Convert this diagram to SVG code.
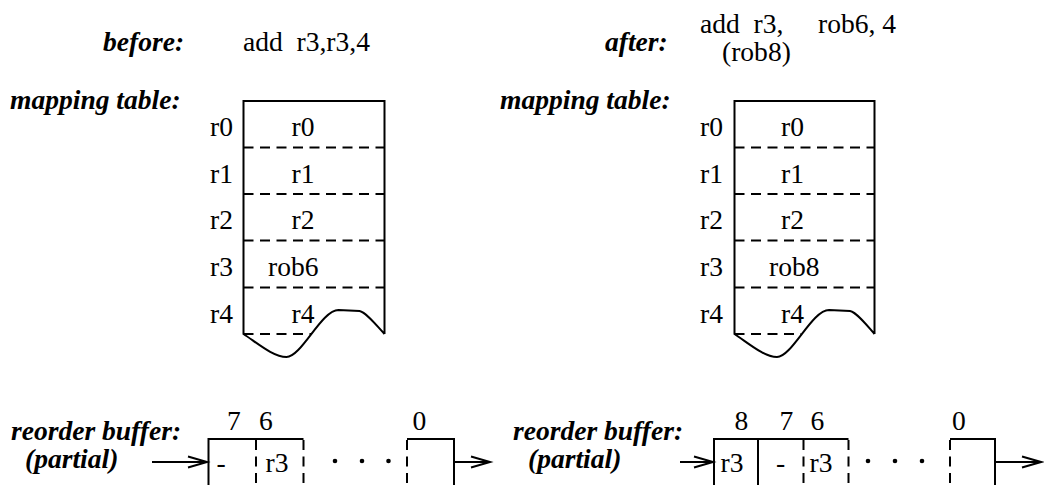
<svg xmlns="http://www.w3.org/2000/svg" width="1044" height="485" viewBox="0 0 1044 485">
<style>
text{font-family:"Liberation Serif","Times New Roman",serif;font-size:26.5px;fill:#000;white-space:pre}
.b{font-weight:bold;font-style:italic}
.m{text-anchor:middle}
.e{text-anchor:end}
.solid{fill:none;stroke:#000;stroke-width:2}
.dash{fill:none;stroke:#000;stroke-width:2;stroke-dasharray:10 6.5}
.arr{fill:none;stroke:#000;stroke-width:1.8}
</style>
<defs>
<marker id="ah" markerUnits="userSpaceOnUse" markerWidth="24" markerHeight="16" refX="20" refY="7" orient="auto">
<path d="M1 1.5 L20 7 L1 12.5" fill="none" stroke="#000" stroke-width="2"/>
</marker>
</defs>
<rect width="1044" height="485" fill="#fff"/>

<g id="title-before">
<text class="b" transform="translate(103 51) scale(1.04 1)">before:</text>
<text transform="translate(243 51) scale(1.04 1)">add  r3,r3,4</text>
</g>
<g id="title-after">
<text class="b" transform="translate(605 51) scale(1.04 1)">after:</text>
<text transform="translate(700 33) scale(1.04 1)">add  r3,</text>
<text transform="translate(818 33) scale(1.04 1)">rob6, 4</text>
<text transform="translate(722 61) scale(1.04 1)">(rob8)</text>
</g>

<g id="map-before">
<text class="b" transform="translate(10 109) scale(1.04 1)">mapping table:</text>
<path class="solid" d="M384.5 334 L384.5 101 L243.5 101 L243.5 334 C258.5 344 273.5 357 286.5 357 C301.5 357 321.5 310 338.5 310 L359.5 311 C365.5 312 375.5 324 384.5 334"/>
<path class="dash" d="M243.5 147.5H384.5M243.5 194H384.5M243.5 240.5H384.5M243.5 287.5H384.5M243.5 334H311"/>
<text class="e" transform="translate(233 136) scale(1.04 1)">r0</text>
<text class="e" transform="translate(233 182.7) scale(1.04 1)">r1</text>
<text class="e" transform="translate(233 229.4) scale(1.04 1)">r2</text>
<text class="e" transform="translate(233 276) scale(1.04 1)">r3</text>
<text class="e" transform="translate(233 322.8) scale(1.04 1)">r4</text>
<text transform="translate(291.5 136) scale(1.04 1)">r0</text>
<text transform="translate(291.5 182.7) scale(1.04 1)">r1</text>
<text transform="translate(291.5 229.4) scale(1.04 1)">r2</text>
<text transform="translate(268 276) scale(1.04 1)">rob6</text>
<text transform="translate(291.5 322.8) scale(1.04 1)">r4</text>
</g>

<g id="map-after">
<text class="b" transform="translate(500 109) scale(1.04 1)">mapping table:</text>
<path class="solid" d="M874.5 334 L874.5 101 L734.5 101 L734.5 334 C749.5 344 764.5 357 777 357 C792 357 812 310 829 310 L850 311 C856 312 866 324 874.5 334"/>
<path class="dash" d="M734.5 147.5H874.5M734.5 194H874.5M734.5 240.5H874.5M734.5 287.5H874.5M734.5 334H801"/>
<text class="e" transform="translate(723 136) scale(1.04 1)">r0</text>
<text class="e" transform="translate(723 182.7) scale(1.04 1)">r1</text>
<text class="e" transform="translate(723 229.4) scale(1.04 1)">r2</text>
<text class="e" transform="translate(723 276) scale(1.04 1)">r3</text>
<text class="e" transform="translate(723 322.8) scale(1.04 1)">r4</text>
<text transform="translate(781 136) scale(1.04 1)">r0</text>
<text transform="translate(781 182.7) scale(1.04 1)">r1</text>
<text transform="translate(781 229.4) scale(1.04 1)">r2</text>
<text transform="translate(769 276) scale(1.04 1)">rob8</text>
<text transform="translate(781 322.8) scale(1.04 1)">r4</text>
</g>

<g id="rob-before">
<text class="b" transform="translate(11 440) scale(1.04 1)">reorder buffer:</text>
<text class="b" transform="translate(25 468) scale(1.04 1)">(partial)</text>
<path class="solid" d="M208.5 487V439H303.5"/>
<path class="dash" d="M256 440V487M303.5 440V487"/>
<path class="solid" d="M407 439H454V487"/>
<path class="dash" d="M407 440V487"/>
<text class="m" transform="translate(234 430) scale(1.04 1)">7</text>
<text class="m" transform="translate(266 430) scale(1.04 1)">6</text>
<text class="m" transform="translate(419.5 430) scale(1.04 1)">0</text>
<text class="m" transform="translate(221 472) scale(1.04 1)">-</text>
<text class="m" transform="translate(277 472) scale(1.04 1)">r3</text>
<circle cx="335" cy="461" r="2.3"/>
<circle cx="362" cy="461" r="2.3"/>
<circle cx="388.5" cy="461" r="2.3"/>
</g>

<g id="rob-after">
<text class="b" transform="translate(513 440) scale(1.04 1)">reorder buffer:</text>
<text class="b" transform="translate(528 468) scale(1.04 1)">(partial)</text>
<path class="solid" d="M714 487V439H848.5M758 439V487"/>
<path class="dash" d="M803.5 440V487M848.5 440V487"/>
<path class="solid" d="M950 439H995V487"/>
<path class="dash" d="M950 440V487"/>
<text class="m" transform="translate(741.5 430) scale(1.04 1)">8</text>
<text class="m" transform="translate(786.5 430) scale(1.04 1)">7</text>
<text class="m" transform="translate(817.5 430) scale(1.04 1)">6</text>
<text class="m" transform="translate(959 430) scale(1.04 1)">0</text>
<text class="m" transform="translate(732 472) scale(1.04 1)">r3</text>
<text class="m" transform="translate(780.5 472) scale(1.04 1)">-</text>
<text class="m" transform="translate(821 472) scale(1.04 1)">r3</text>
<circle cx="868" cy="461" r="2.3"/>
<circle cx="895" cy="461" r="2.3"/>
<circle cx="922" cy="461" r="2.3"/>
</g>

<g id="connectors">
<path class="arr" d="M152 462H207" marker-end="url(#ah)"/>
<path class="arr" d="M455 462H490" marker-end="url(#ah)"/>
<path class="arr" d="M680 462H713" marker-end="url(#ah)"/>
<path class="arr" d="M996 462H1041" marker-end="url(#ah)"/>
</g>
</svg>
